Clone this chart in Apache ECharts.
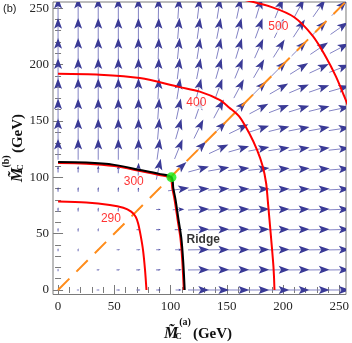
<!DOCTYPE html>
<html>
<head>
<meta charset="utf-8">
<script src="https://cdn.jsdelivr.net/npm/echarts@6.0.0/dist/echarts.min.js"></script>
<style>
  html, body { margin: 0; padding: 0; background: #fff; }
  #main { width: 352px; height: 343px; }
</style>
</head>
<body>
<div id="main"></div>
<script>
// sample points of the vector field (both axes)
var gridVals = [0, 17.857, 35.714, 53.571, 71.429, 89.286, 107.143, 125, 142.857, 160.714, 178.571, 196.429, 214.286, 232.143, 250];

// arrow direction in degrees, one row per y value (row 0 = y 0), one column per x value
var arrowAngle = [
  [45, 0, 0, 0, 0, 0, 0, 0, 0, 0, 0, 0, 0, 0, 0],
  [90, 45, 0, 0, 0, 0, 0, 0.5, 0.5, 0.5, 0.5, 0.5, 0.5, 0.5, 0.5],
  [90, 90, 45, 0, 0, 0, 0, 1, 1, 1, 1, 1, 1, 1, 1],
  [90, 90, 90, 45, 0, 0, 0, 1.5, 1.5, 1.5, 1.5, 1.5, 1.5, 1.5, 1.5],
  [90, 90, 90, 90, 45, 0, 3, 3, 2.5, 2.5, 2, 2, 2, 2, 2],
  [90, 90, 90, 90, 90, 45, 8, 5, 4, 3.5, 3, 3, 3, 3, 3],
  [90, 90, 90, 90, 88, 78, 42, 15, 10, 7, 6, 5, 5, 4.5, 4.5],
  [90, 90, 90, 90, 89, 82, 68, 45, 25, 16, 11, 9, 8, 7, 6],
  [90, 90, 90, 90, 89, 85, 74, 64, 45, 26, 18, 14, 11, 10, 9],
  [90, 90, 90, 90, 89, 86, 78, 71, 62, 45, 28, 21, 17, 14, 12],
  [90, 90, 90, 90, 89.5, 87, 81, 76, 70, 62, 45, 30, 23, 19, 16],
  [90, 90, 90, 90, 89.5, 88, 83, 79, 74, 68, 60, 45, 32, 25, 21],
  [90, 90, 90, 90, 90, 88, 84, 81, 77, 73, 66, 58, 45, 34, 28],
  [90, 90, 90, 90, 90, 88.5, 85, 82, 79, 75, 70, 64, 57, 45, 35],
  [90, 90, 90, 90, 90, 89, 86, 83, 81, 78, 73, 68, 62, 55, 45]
];

// relative arrow length (1 = full size), same layout
var arrowLen = [
  [0.05, 0.12, 0.15, 0.18, 0.2, 0.22, 0.28, 1, 1, 1, 1, 1, 1, 1, 1],
  [0.12, 0.1, 0.14, 0.17, 0.2, 0.22, 0.3, 1, 1, 1, 1, 1, 1, 1, 1],
  [0.15, 0.14, 0.12, 0.16, 0.19, 0.22, 0.32, 1, 1, 1, 1, 1, 1, 1, 1],
  [0.18, 0.17, 0.16, 0.14, 0.18, 0.22, 0.36, 1, 1, 1, 1, 1, 1, 1, 1],
  [0.2, 0.2, 0.19, 0.18, 0.16, 0.22, 0.55, 1, 1, 1, 1, 1, 1, 1, 1],
  [0.22, 0.22, 0.22, 0.22, 0.22, 0.2, 1, 1, 1, 1, 1, 1, 1, 1, 1],
  [0.3, 0.3, 0.32, 0.38, 0.6, 1, 1, 1, 1, 1, 1, 1, 1, 1, 1],
  [1, 1, 1, 1, 1, 1, 1, 1, 1, 1, 1, 1, 1, 1, 1],
  [1, 1, 1, 1, 1, 1, 1, 1, 1, 1, 1, 1, 1, 1, 1],
  [1, 1, 1, 1, 1, 1, 1, 1, 1, 1, 1, 1, 1, 1, 1],
  [1, 1, 1, 1, 1, 1, 1, 1, 1, 1, 1, 1, 1, 1, 1],
  [1, 1, 1, 1, 1, 1, 1, 1, 1, 1, 1, 1, 1, 1, 1],
  [1, 1, 1, 1, 1, 1, 1, 1, 1, 1, 1, 1, 1, 1, 1],
  [1, 1, 1, 1, 1, 1, 1, 1, 1, 1, 1, 1, 1, 1, 1],
  [1, 1, 1, 1, 1, 1, 1, 1, 1, 1, 1, 1, 1, 1, 1]
];

// contour lines
var c290 = [[0, 78.4], [25, 77.6], [46, 75.5], [58, 73], [65, 69.5], [69, 65], [71.2, 59], [73.5, 48], [75.6, 35], [77.3, 18], [78.6, 0]];
var c300 = [[0, 112.6], [25, 112.1], [50, 110], [73, 105.6], [90, 102], [99.8, 99.2], [101.6, 90], [103.6, 80], [106.2, 63], [108.8, 46], [110.5, 25], [111.8, 0]];
var c400 = [[0, 191.8], [37, 191], [72.7, 188], [108, 180], [126, 176], [143.6, 168.7], [152, 162], [161, 154], [170, 139], [177, 124], [182, 109.5], [185, 94.7], [186.4, 80], [189, 50.6], [191.5, 20.7], [192.4, 0]];
var c500 = [[163, 258], [190, 251], [210, 242], [226.4, 225.5], [238, 207], [247, 189.5], [254.4, 172], [258, 163]];
var ridge = [[0, 113.5], [25, 113], [50, 111], [73, 106.5], [90, 103], [100.8, 100], [102.5, 90], [104.5, 80], [107, 63], [109.6, 46], [111.3, 25], [112.6, 0]];
var diagonal = [[0, 0], [256, 256]];
var ridgePoint = [[100.8, 100]];

// text placed on the plot: [text, x, y]
var contourLabels = [['500', 195.8, 233.6], ['400', 122.9, 165.9], ['300', 67.3, 95.8], ['290', 47, 63]];
var ridgeLabel = ['Ridge', 114.3, 44.4];

var majorTicks = [0, 50, 100, 150, 200, 250];
var minorTicks = [10, 20, 30, 40, 60, 70, 80, 90, 110, 120, 130, 140, 160, 170, 180, 190, 210, 220, 230, 240];

var HEAD = '#3a3a96';
var SHAFT = '#8383c4';
var FRAME = '#7a7a7a';

var fieldData = [];
for (var j = 0; j < gridVals.length; j++) {
  for (var i = 0; i < gridVals.length; i++) {
    fieldData.push([gridVals[i], gridVals[j], arrowAngle[j][i], arrowLen[j][i]]);
  }
}

function renderArrow(params, api) {
  var c = api.coord([api.value(0), api.value(1)]);
  var a = api.value(2) * Math.PI / 180;
  var len = api.value(3);
  var full = api.size([gridVals[1], 0])[0] * 1.06;
  var L = full * len;
  var dx = Math.cos(a), dy = -Math.sin(a);
  var nx = -dy, ny = dx;
  var tip = [c[0] + dx * L / 2, c[1] + dy * L / 2];
  var tail = [c[0] - dx * L / 2, c[1] - dy * L / 2];
  var hl = 11 * len, hw = 4 * len, notch = 2.5 * len;
  var base = [tip[0] - dx * hl, tip[1] - dy * hl];
  var back = [tip[0] - dx * (hl - notch), tip[1] - dy * (hl - notch)];
  return {
    type: 'group',
    children: [
      { type: 'line', shape: { x1: tail[0], y1: tail[1], x2: back[0], y2: back[1] },
        style: { stroke: SHAFT, lineWidth: len < 0.5 ? 1.2 : 1 } },
      { type: 'polygon',
        shape: { points: [tip, [base[0] + nx * hw, base[1] + ny * hw], back, [base[0] - nx * hw, base[1] - ny * hw]] },
        style: { fill: HEAD } }
    ]
  };
}

function tickAxis(pos, values, len, showLabel, margin) {
  return {
    type: 'value',
    position: pos,
    offset: 0,
    axisLine: { show: false },
    splitLine: { show: false },
    axisTick: { show: true, inside: true, length: len, customValues: values, lineStyle: { color: FRAME, width: 1 } },
    axisLabel: showLabel ? {
      show: true, customValues: majorTicks, margin: margin,
      fontFamily: 'Liberation Serif', fontSize: 13, color: '#262626'
    } : { show: false }
  };
}

var xAxes = [
  tickAxis('bottom', majorTicks, 5, true, 6),
  tickAxis('bottom', minorTicks, 3, false),
  tickAxis('top', majorTicks, 5, false),
  tickAxis('top', minorTicks, 3, false)
];
var yAxes = [
  tickAxis('left', majorTicks, 5, true, 4),
  tickAxis('left', minorTicks, 3, false),
  tickAxis('right', majorTicks, 5, false),
  tickAxis('right', minorTicks, 3, false)
];
xAxes.forEach(function (ax) { ax.min = -4.5; ax.max = 256; });
yAxes.forEach(function (ax) { ax.min = -4; ax.max = 255.5; });

function contour(data, color, z) {
  return {
    type: 'line', data: data, smooth: 0.3, showSymbol: false, symbol: 'none',
    lineStyle: { color: color, width: 2 }, z: z, silent: true
  };
}

var titleFont = '"Liberation Serif"';
function titlePart(text, font, x, y, rot) {
  return {
    type: 'text', x: x, y: y, rotation: rot || 0,
    style: {
      text: text, font: font, fill: '#111',
      align: 'center', verticalAlign: 'middle',
      textAlign: 'center', textVerticalAlign: 'middle'
    }
  };
}
var R = Math.PI / 2;

var chart = echarts.init(document.getElementById('main'));
chart.setOption({
  animation: false,
  grid: { left: 53, right: 5, top: 2, bottom: 48.5, show: true, borderColor: FRAME, borderWidth: 1, backgroundColor: 'transparent' },
  xAxis: xAxes,
  yAxis: yAxes,
  graphic: [
    { type: 'text', x: 3, y: 3, style: { text: '(b)', font: '11px "Liberation Sans"', fill: '#222' } },
    titlePart('M\u0303', 'italic bold 16px ' + titleFont, 171, 334),
    titlePart('C', 'bold 9px ' + titleFont, 178.5, 337),
    titlePart('(a)', 'bold 10px ' + titleFont, 185, 322.5),
    titlePart('(GeV)', 'bold 15px ' + titleFont, 212.5, 334.5),
    titlePart('M\u0303', 'italic bold 16px ' + titleFont, 18, 175, R),
    titlePart('C', 'bold 9px ' + titleFont, 21, 167.5, R),
    titlePart('(b)', 'bold 10px ' + titleFont, 6.5, 161.5, R),
    titlePart('(GeV)', 'bold 15px ' + titleFont, 18.5, 133.5, R)
  ],
  series: [
    { type: 'custom', renderItem: renderArrow, data: fieldData, clip: true, z: 1, silent: true },
    {
      type: 'line', data: diagonal, showSymbol: false, symbol: 'none', z: 2, silent: true,
      lineStyle: { color: '#ff8c1a', width: 2, type: [16, 10] }
    },
    contour(c290, '#ff0000', 3),
    contour(c300, '#ff0000', 3),
    contour(c400, '#ff0000', 3),
    contour(c500, '#ff0000', 3),
    contour(ridge, '#000000', 4),
    {
      type: 'scatter', data: ridgePoint, symbolSize: 10, z: 5, silent: true,
      itemStyle: { color: '#14ec14' }
    },
    {
      type: 'scatter', symbolSize: 0, z: 6, silent: true,
      data: contourLabels.map(function (d) { return { value: [d[1], d[2]], name: d[0] }; }),
      label: {
        show: true, position: 'inside', formatter: '{b}',
        fontFamily: 'Liberation Sans', fontSize: 12, color: '#ff0000',
        backgroundColor: '#ffffff', padding: [0, 1]
      }
    },
    {
      type: 'scatter', symbolSize: 0, z: 6, silent: true,
      data: [{ value: [ridgeLabel[1], ridgeLabel[2]], name: ridgeLabel[0] }],
      label: {
        show: true, position: 'right', distance: 0, formatter: '{b}',
        fontFamily: 'Liberation Sans', fontSize: 12, fontWeight: 'bold', color: '#000'
      }
    }
  ]
});
</script>
</body>
</html>
